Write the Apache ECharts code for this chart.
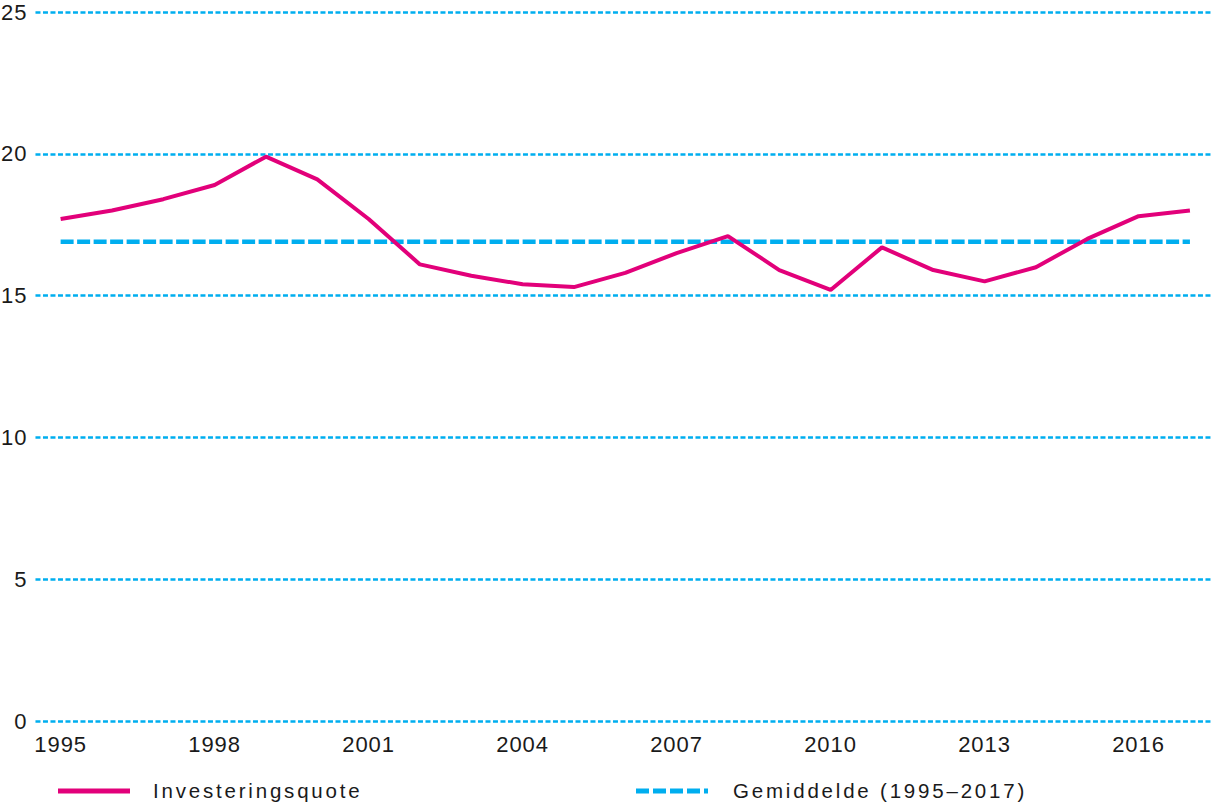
<!DOCTYPE html>
<html><head><meta charset="utf-8">
<script src="https://cdn.jsdelivr.net/npm/echarts@6/dist/echarts.min.js"></script>
<style>
html,body{margin:0;padding:0;background:#fff}#c{width:1216px;height:806px}
#c svg text{letter-spacing:1px}
#c svg text[fill="#1a1a1b"], #c svg text[style*="20.5px"], #c svg text[style*="1a1a1b"]{letter-spacing:2.8px}
</style>
</head><body><div id="c"></div>
<script>
const years = [1995,1996,1997,1998,1999,2000,2001,2002,2003,2004,2005,2006,2007,2008,2009,2010,2011,2012,2013,2014,2015,2016,2017];
const investeringsquote = [17.7,18.0,18.4,18.9,19.9,19.1,17.7,16.1,15.7,15.4,15.3,15.8,16.5,17.1,15.9,15.2,16.7,15.9,15.5,16.0,17.0,17.8,18.0];
const gemiddelde = [16.9,16.9,16.9,16.9,16.9,16.9,16.9,16.9,16.9,16.9,16.9,16.9,16.9,16.9,16.9,16.9,16.9,16.9,16.9,16.9,16.9,16.9,16.9];
const xTickLabels = [1995,1998,2001,2004,2007,2010,2013,2016];
const yTicks = [0,5,10,15,20,25];
const seriesNames = ['Investeringsquote','Gemiddelde (1995\u20132017)'];

const pink = '#E2007A', blue = '#00AEEF', txt = '#1a1a1a', legTxt = '#1a1a1b';
const font = '"Liberation Sans", Arial, sans-serif';
const fs = 22;
const chart = echarts.init(document.getElementById('c'), null, {renderer:'svg'});
chart.setOption({
  animation:false,
  grid:{left:35,right:4,top:12,bottom:85,containLabel:false},
  xAxis:{type:'value',min:1994.51,max:2017.43,
    axisLine:{show:false},axisTick:{show:false},splitLine:{show:false},
    axisLabel:{customValues:xTickLabels,color:txt,fontSize:fs,fontFamily:font,margin:12,formatter:v=>String(v)}},
  yAxis:{type:'value',min:0,max:25,interval:5,
    axisLine:{show:false},axisTick:{show:false},
    axisLabel:{color:txt,fontSize:fs,fontFamily:font,margin:8},
    splitLine:{show:true,lineStyle:{color:blue,width:2.5,type:[5,2.5]}}},
  series:[
    {name:seriesNames[1],type:'line',data:years.map((y,i)=>[y,gemiddelde[i]]),symbol:'none',
     lineStyle:{color:blue,width:4.5,type:[13,3.5]},z:2},
    {name:seriesNames[0],type:'line',data:years.map((y,i)=>[y,investeringsquote[i]]),symbol:'none',
     lineStyle:{color:pink,width:4},z:3}
  ],
  graphic:[
    {type:'line',shape:{x1:58,y1:791,x2:130,y2:791},style:{stroke:pink,lineWidth:5}},
    {type:'text',x:153,y:790.5,style:{text:seriesNames[0],fill:legTxt,font:'20.5px '+font,verticalAlign:'middle'}},
    {type:'line',shape:{x1:636,y1:791,x2:708,y2:791},style:{stroke:blue,lineWidth:5,lineDash:[13,4]}},
    {type:'text',x:733,y:790.5,style:{text:seriesNames[1],fill:legTxt,font:'20.5px '+font,verticalAlign:'middle'}}
  ]
});
</script></body></html>
